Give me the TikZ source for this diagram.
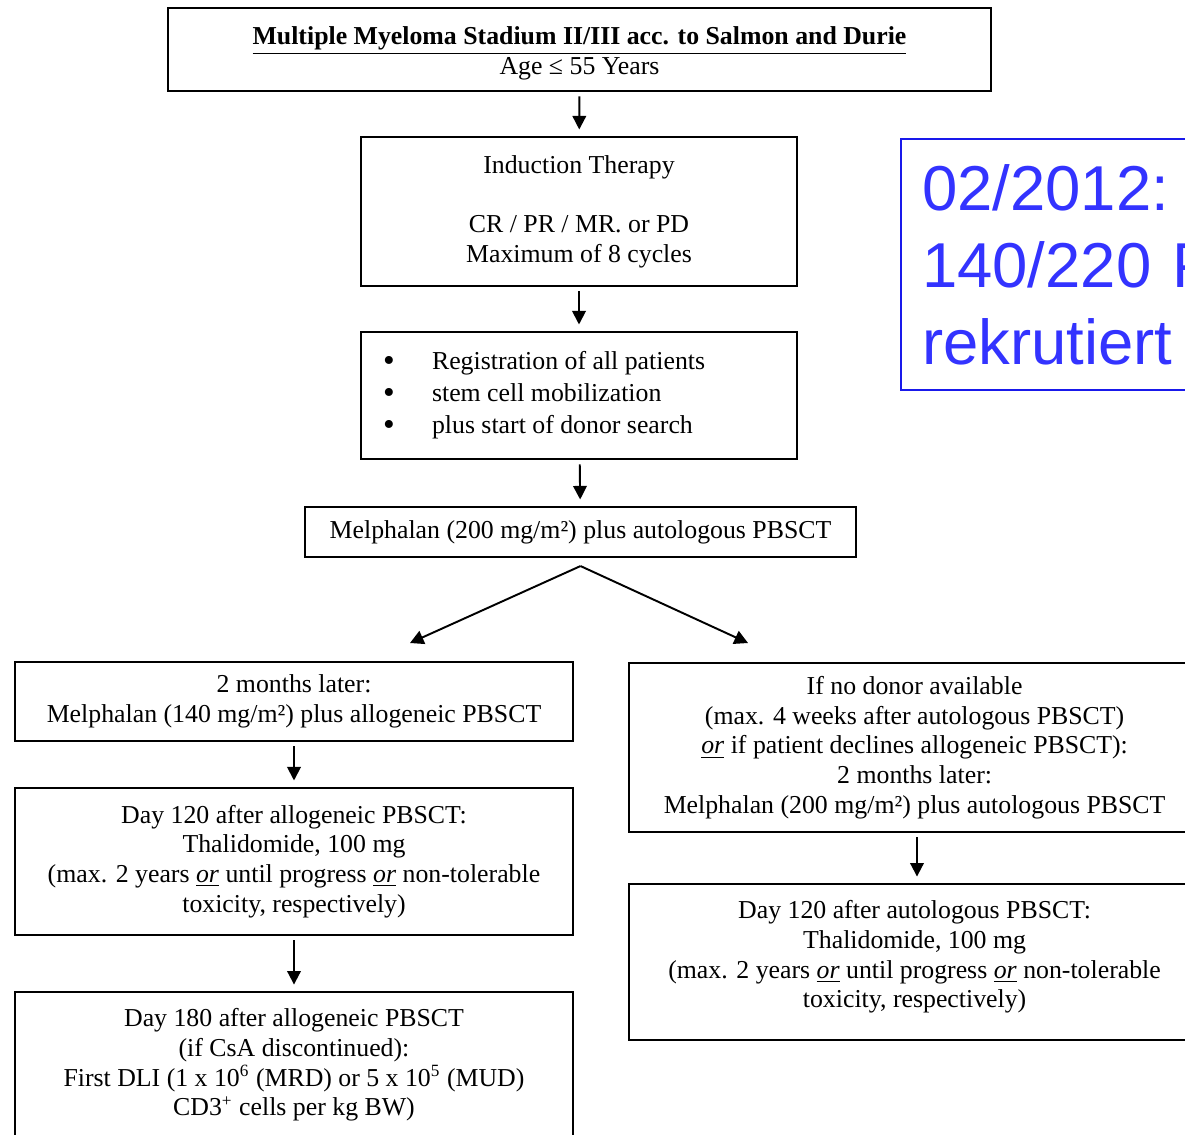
\documentclass[tikz,border=0pt]{standalone}
\usepackage{fontspec}
\setmainfont{Liberation Serif}
\newfontfamily\notefont{Liberation Sans}
\usepackage{tikz}
\usetikzlibrary{arrows.meta}
\definecolor{notetext}{RGB}{51,51,255}
\definecolor{noteframe}{RGB}{25,25,235}
\newcommand{\px}{0.465pt}
\newcommand{\orword}{\underline{\textit{or}}}
\newcommand{\bulletitem}{\makebox[22.8pt][l]{\raisebox{-0.9pt}{\fontsize{15.5}{15.5}\selectfont\textbullet}}}

\tikzset{
  box/.style={draw, line width=1pt, align=center, inner sep=0pt,
    font=\fontsize{12}{13.8}\selectfont},
  flow/.style={-{Triangle[length=6.3pt,width=6.3pt]}, line width=0.9pt,
    shorten <=2pt, shorten >=3pt},
  split/.style={-{Triangle[length=6.3pt,width=6.5pt]}, line width=0.9pt},
}

\begin{document}
\begin{tikzpicture}[x=\px, y=-\px]
    \useasboundingbox (0,0) rectangle (1185,1134);
    \clip (0,0) rectangle (1185,1134);

    % main column
    \node[box, minimum width=823*\px, minimum height=83*\px] (entry) at (579.5,49.5)
        {\rule{0pt}{11.6pt}\underline{\textbf{Multiple Myeloma Stadium II/III acc. to Salmon and Durie}}\\Age ≤ 55 Years};
    \node[box, minimum width=436*\px, minimum height=149*\px] (induction) at (579,211.5)
        {Induction Therapy\\[13.8pt]CR / PR / MR. or PD\\Maximum of 8 cycles};
    \node[box, minimum width=436*\px, minimum height=127*\px, align=flush left,
          inner xsep=22*\px, text width=392*\px, font=\fontsize{12}{14.9}\selectfont] (register) at (579,395.5)
        {\bulletitem Registration of all patients\\
         \bulletitem stem cell mobilization\\
         \bulletitem plus start of donor search};
    \node[box, minimum width=551*\px, minimum height=50*\px] (autoA) at (580.5,532)
        {Melphalan (200 mg/m²) plus autologous PBSCT};

    % allogeneic branch
    \node[box, minimum width=558*\px, minimum height=79*\px] (alloA) at (294,701.5)
        {2 months later:\\Melphalan (140 mg/m²) plus allogeneic PBSCT};
    \node[box, minimum width=558*\px, minimum height=147*\px] (alloB) at (294,861.5)
        {Day 120 after allogeneic PBSCT:\\Thalidomide, 100 mg\\
         (max. 2 years \orword{} until progress \orword{} non-tolerable\\toxicity, respectively)};
    \node[box, anchor=north, minimum width=558*\px, minimum height=146*\px] (alloC) at (294,991)
        {Day 180 after allogeneic PBSCT\\(if CsA discontinued):\\
         First DLI (1 x 10\textsuperscript{6} (MRD) or 5 x 10\textsuperscript{5} (MUD)\\
         CD3\textsuperscript{+} cells per kg BW)};

    % autologous branch
    \node[box, anchor=north west, minimum width=571*\px, minimum height=169*\px] (autoB) at (628,662)
        {If no donor available\\(max. 4 weeks after autologous PBSCT)\\
         \orword{} if patient declines allogeneic PBSCT):\\2 months later:\\
         Melphalan (200 mg/m²) plus autologous PBSCT};
    \node[box, anchor=north west, minimum width=571*\px, minimum height=156*\px] (autoC) at (628,883)
        {Day 120 after autologous PBSCT:\\Thalidomide, 100 mg\\
         (max. 2 years \orword{} until progress \orword{} non-tolerable\\toxicity, respectively)\rule[-7.2pt]{0pt}{0pt}};

    % recruiting note
    \node[draw=noteframe, line width=1pt, anchor=north west, align=left, text=notetext,
          font=\notefont\fontsize{29.5}{35.8}\selectfont, inner xsep=21*\px, inner ysep=0pt,
          text width=300*\px, minimum height=251*\px] (note) at (900,138)
        {02/2012:\\140/220 P\\rekrutiert};

    % arrows
    \coordinate (rcol) at (917,0);
    \draw[flow] (entry) -- (induction);
    \draw[flow] (induction) -- (register);
    \draw[flow] (register) -- (autoA);
    \draw[flow] (alloA) -- (alloB);
    \draw[flow] (alloB) -- (alloC);
    \draw[flow] (autoB.south -| rcol) -- (autoC.north -| rcol);

    \coordinate (fork) at ([yshift=-3.7pt]autoA.south);
    \coordinate (forkL) at (410,643);
    \coordinate (forkR) at (748,643);
    \draw[split] (fork) -- (forkL);
    \draw[split] (fork) -- (forkR);
\end{tikzpicture}
\end{document}
